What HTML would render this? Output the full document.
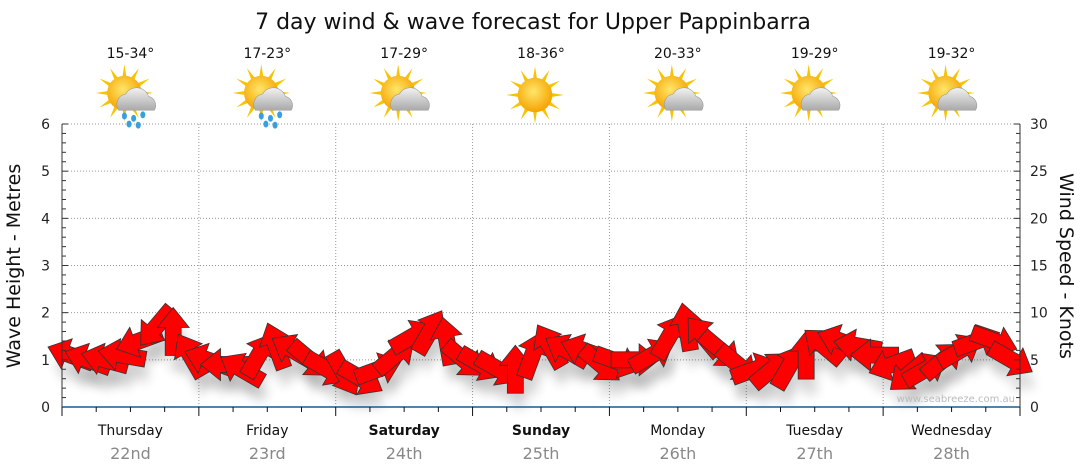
<!DOCTYPE html>
<html><head><meta charset="utf-8"><style>
body{margin:0;background:#fff;font-family:"DejaVu Sans","Liberation Sans",sans-serif}
#c{position:relative;width:1080px;height:475px;overflow:hidden}
</style></head><body>
<div id="c">
<svg id="s" width="1080" height="475" xmlns="http://www.w3.org/2000/svg" font-family="DejaVu Sans, Liberation Sans, sans-serif">
<defs>
<filter id="sh" x="-50%" y="-50%" width="200%" height="200%"><feGaussianBlur stdDeviation="5"/></filter>
<radialGradient id="sun" cx="45%" cy="40%" r="60%"><stop offset="0" stop-color="#ffe66a"/><stop offset="1" stop-color="#f5a300"/></radialGradient>
<linearGradient id="cl" x1="0" y1="0" x2="0" y2="1"><stop offset="0" stop-color="#f2f2f2"/><stop offset="1" stop-color="#a9a9a9"/></linearGradient>
</defs>
<text x="533" y="29" font-size="22" text-anchor="middle" fill="#111">7 day wind &amp; wave forecast for Upper Pappinbarra</text>
<g id="grid"></g><g id="icons"></g><g id="arrows"></g><g id="axes"></g>
<text transform="translate(20,266) rotate(-90)" font-size="19" text-anchor="middle" fill="#111">Wave Height - Metres</text>
<text transform="translate(1060,266) rotate(90)" font-size="19" text-anchor="middle" fill="#111">Wind Speed - Knots</text>
<text x="1015" y="402" font-size="10" text-anchor="end" fill="#bbb">www.seabreeze.com.au</text>
</svg></div>
<script>
const days=["Thursday","Friday","Saturday","Sunday","Monday","Tuesday","Wednesday"];
const dates=["22nd","23rd","24th","25th","26th","27th","28th"];
const boldDays=[false,false,true,true,false,false,false];
const temps=["15-34°","17-23°","17-29°","18-36°","20-33°","19-29°","19-32°"];
const rain=[true,true,false,false,false,false,false];
const cloud=[true,true,true,false,true,true,true];
const waveTicks=[0,1,2,3,4,5,6];
const windTicks=[0,5,10,15,20,25,30];
// wind speed (knots), 3-hourly
const windSpeed=[5.5,5,5,5.5,7,8.5,8,5.5, 5,4.5,4,5.5,6.5,6,5,4, 3.5,3,4,5.5,7.5,8,7,5, 4.5,4,4,5.5,6.5,6,6,4.5, 4.8,5,5.5,7.5,8.5,7.5,6,4.5, 4,4,4.3,5.5,6.5,7,6.5,5.5, 4.5,3.5,4,5,6,7,7,5];
// arrow pointing direction (deg, 0=right, clockwise)
const windDir=[200,200,195,190,160,130,-90,-120, 200,180,210,-60,-110,-150,40,30, 60,30,-20,-40,-30,-60,-100,40, 30,30,-90,-70,-120,-150,-160,40, 20,0,-30,-60,-100,-130,40,40, -20,-40,-60,-90,-140,-160,-170,180, 160,140,-30,-40,-30,-20,20,30];
const X0=62,X1=1020,Y0=407,Y6=124;
const xs=h=>X0+(X1-X0)*h/168;
const yw=m=>Y0-(Y0-Y6)*m/6;
const yk=k=>Y0-(Y0-Y6)*k/30;
const NS="http://www.w3.org/2000/svg";
function mk(t,a,p){const e=document.createElementNS(NS,t);for(const k in a)e.setAttribute(k,a[k]);p.appendChild(e);return e;}
const grid=document.getElementById('grid'),axes=document.getElementById('axes'),ic=document.getElementById('icons'),ar=document.getElementById('arrows');
waveTicks.forEach(v=>{if(v>0){const l=mk('line',{x1:X0,x2:X1,y1:yw(v),y2:yw(v),stroke:'#999','stroke-dasharray':'1,2'},grid);}
 const t=mk('text',{x:50,y:yw(v)+5,'font-size':14,'text-anchor':'end',fill:'#222'},axes);t.textContent=v;});
windTicks.forEach(v=>{const t=mk('text',{x:1030,y:yk(v)+5,'font-size':14,fill:'#222'},axes);t.textContent=v;});
for(let i=0;i<=30;i++){const y=yw(i*0.2);mk('line',{x1:X0,x2:X0+(i%5==0?6:4),y1:y,y2:y,stroke:'#333'},axes);mk('line',{x1:X1,x2:X1-(i%5==0?6:4),y1:y,y2:y,stroke:'#333'},axes);}
mk('line',{x1:X0,x2:X0,y1:Y6,y2:Y0,stroke:'#333'},axes);mk('line',{x1:X1,x2:X1,y1:Y6,y2:Y0,stroke:'#333'},axes);
mk('line',{x1:X0,x2:X1,y1:Y0,y2:Y0,stroke:'#1d5a88','stroke-width':1.5},axes);
for(let h=0;h<=168;h+=6){const x=xs(h);mk('line',{x1:x,x2:x,y1:Y0,y2:Y0+(h%24==0?9:5),stroke:'#111'},axes);}
days.forEach((d,i)=>{const cx=xs(i*24+12);
 if(i>0){const l=mk('line',{x1:xs(i*24),x2:xs(i*24),y1:Y6,y2:Y0,stroke:'#999','stroke-dasharray':'1,2'},grid);}
 const t=mk('text',{x:cx,y:435,'font-size':14,'text-anchor':'middle',fill:'#111','font-weight':boldDays[i]?'bold':'normal'},axes);t.textContent=d;
 const t2=mk('text',{x:cx,y:459,'font-size':16,'text-anchor':'middle',fill:'#888'},axes);t2.textContent=dates[i];
 const t3=mk('text',{x:cx,y:58,'font-size':14,'text-anchor':'middle',fill:'#111'},ic);t3.textContent=temps[i];
 const g=mk('g',{transform:`translate(${cx-6},${cloud[i]?93:95}) scale(1.15)`},ic);
 for(let a=0;a<360;a+=30){const r=a*Math.PI/180;mk('polygon',{points:`${Math.cos(r-0.15)*13},${Math.sin(r-0.15)*13} ${Math.cos(r)*25},${Math.sin(r)*25} ${Math.cos(r+0.15)*13},${Math.sin(r+0.15)*13}`,fill:'#f7c400'},g);}
 mk('circle',{cx:0,cy:0,r:15,fill:'url(#sun)'},g);
 if(cloud[i]){mk('path',{d:'M-5,15 a9,9 0 0 1 6,-14 a11,11 0 0 1 20,2 a8,8 0 0 1 5,12 z',fill:'url(#cl)',stroke:'#999','stroke-width':0.5},g);}
 if(rain[i]){[[0,20],[8,22],[16,19],[4,27],[12,28]].forEach(p=>mk('ellipse',{cx:p[0],cy:p[1],rx:2.2,ry:3,fill:'#39a0e0'},g));}
});
const shape="-24,-8 4,-8 4,-16 24,0 4,16 4,8 -24,8";
windSpeed.forEach((k,i)=>{const x=xs(i*3+1.5),y=yk(k);
 mk('polygon',{points:shape,transform:`translate(${x+4},${y+16}) rotate(${windDir[i]})`,fill:'#000',opacity:0.12,filter:'url(#sh)'},ar);});
windSpeed.forEach((k,i)=>{const x=xs(i*3+1.5),y=yk(k);
 const p=mk('polygon',{points:shape,transform:`translate(${x},${y}) rotate(${windDir[i]})`,fill:'#ff0000',stroke:'#333','stroke-width':0.8},ar);
 
 });
</script>
</body></html>
